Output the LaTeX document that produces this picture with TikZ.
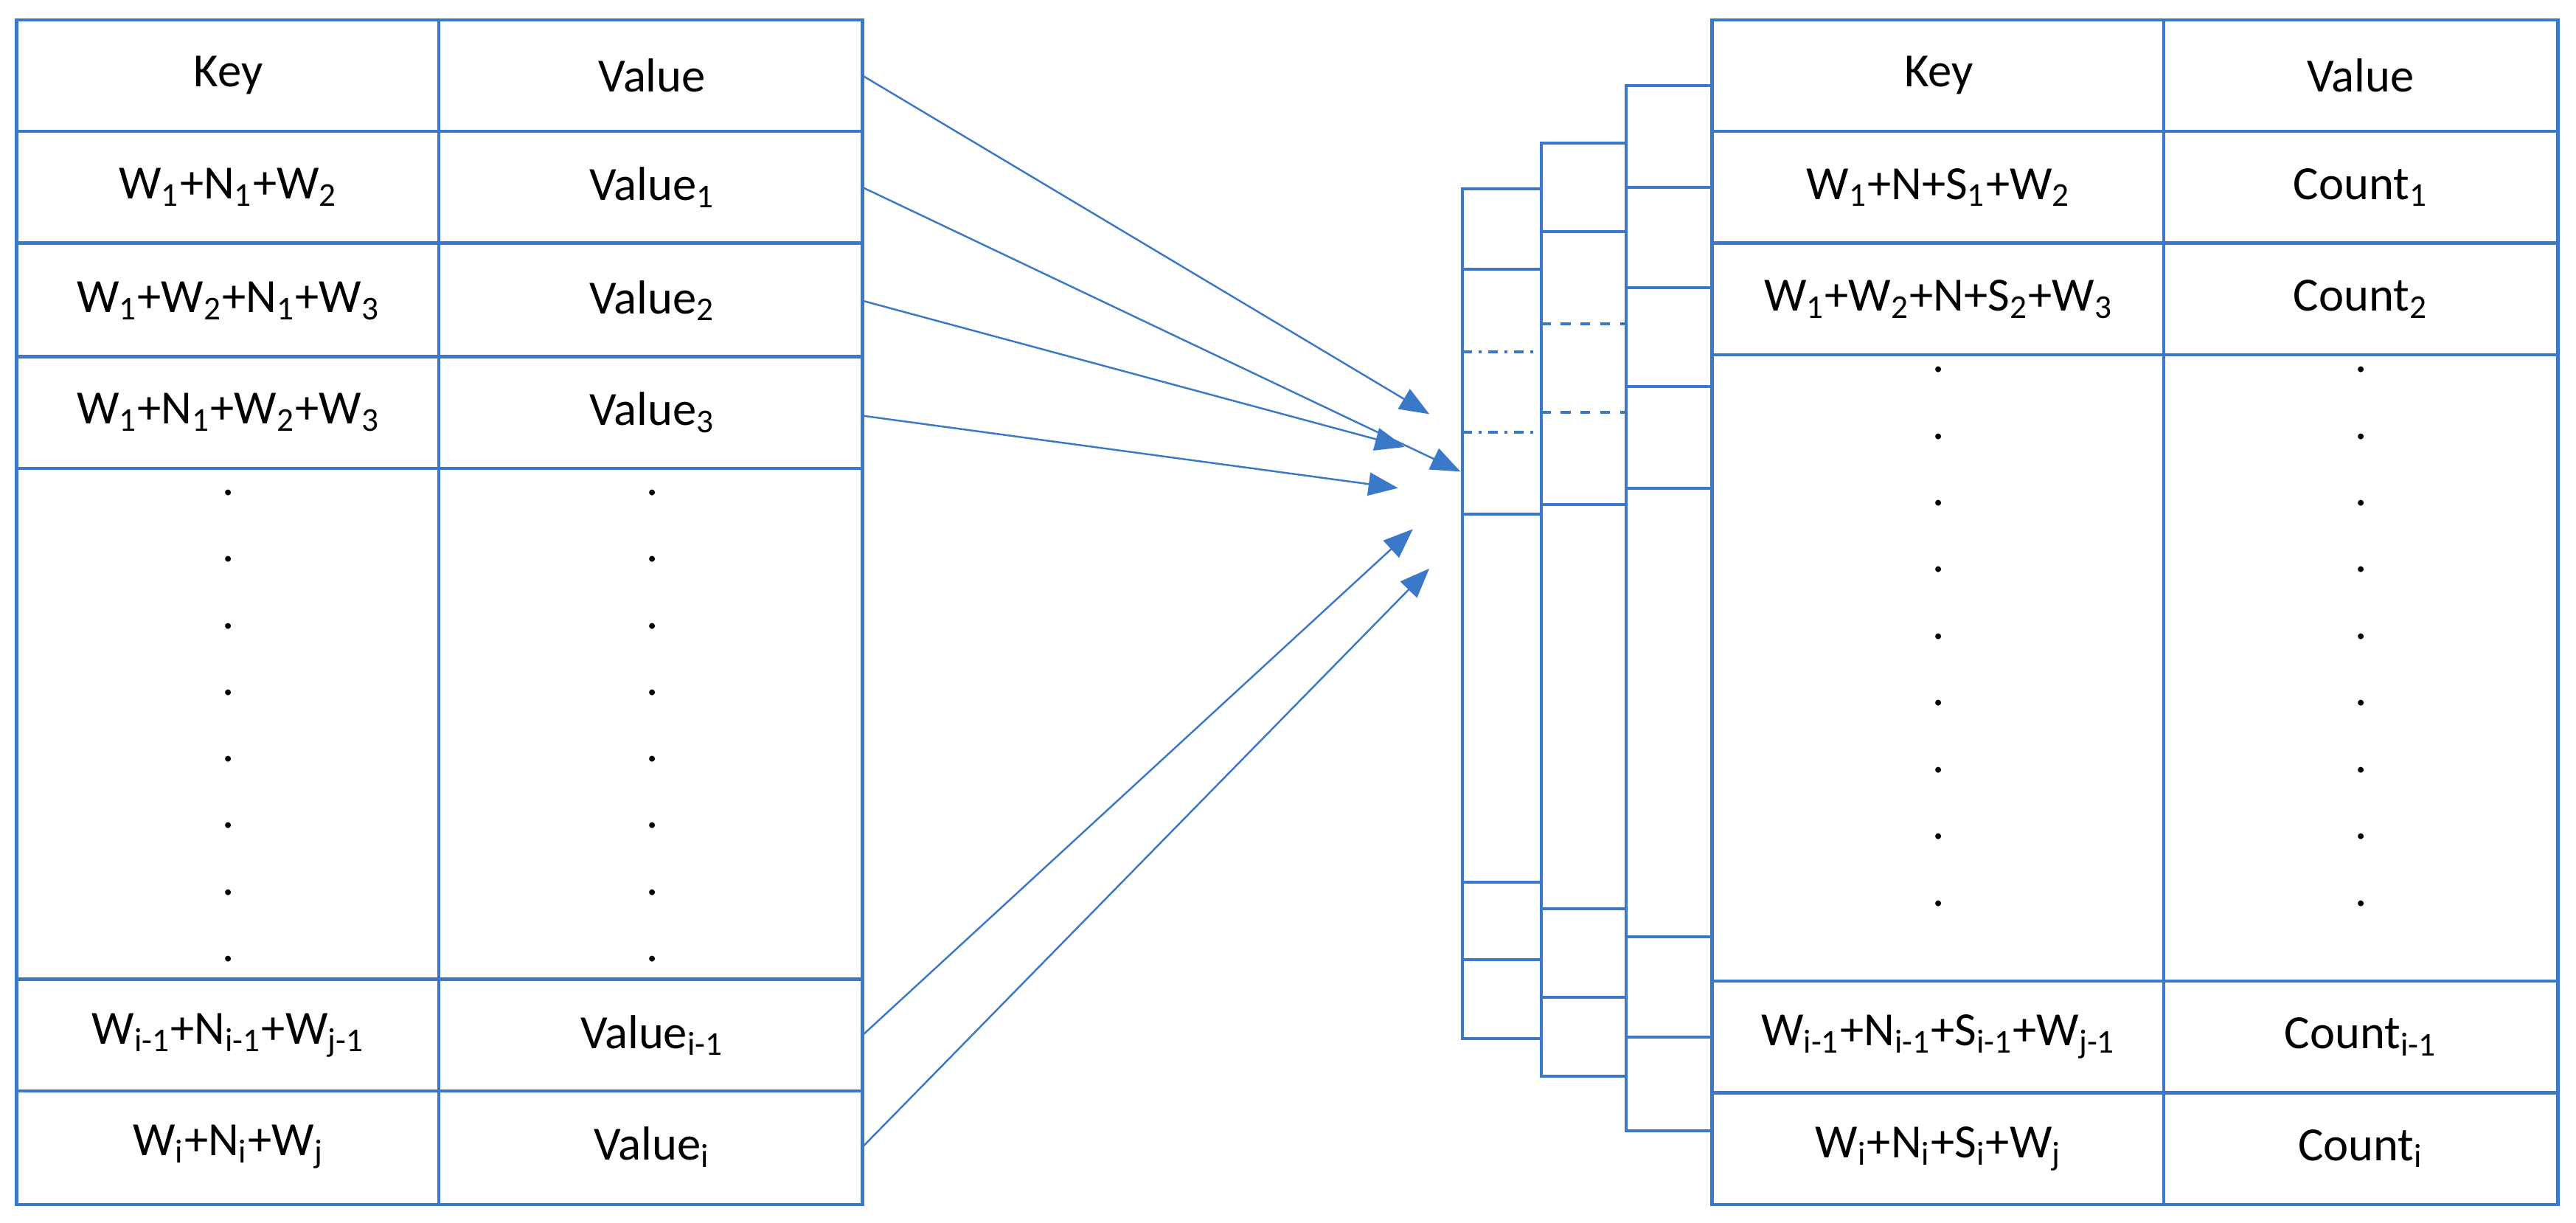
\documentclass[tikz,border=0pt]{standalone}
\usepackage{fontspec}
\setmainfont{Carlito}
\usetikzlibrary{arrows.meta}
\definecolor{bl}{RGB}{58,120,200}
\newcommand{\ssb}[1]{\textsubscript{#1}}
\begin{document}
\begin{tikzpicture}[x=0.5pt,y=-0.5pt,
  grid/.style={draw=bl,line width=1pt},
  pl/.style={draw=bl,line width=0.9pt},
  arr/.style={draw=bl,line width=0.55pt,-{Triangle[length=9pt,width=7pt]}},
  txt/.style={font=\fontsize{14.5}{17}\selectfont,inner sep=0pt},
  dot/.style={font=\fontsize{14.5}{17}\selectfont,inner sep=0pt}]
\useasboundingbox (0,0) rectangle (1568,744);
% left table
\draw[grid] (10,12) rectangle (525,733);
\draw[grid] (267,12) -- (267,733);
\foreach \y in {80,148,217,285,596,664} \draw[grid] (10,\y) -- (525,\y);
\node[txt] (lk0) at (139,46) {Key};
\node[txt] (lv0) at (397,46) {Value};
\node[txt] (lk1) at (139,114) {W\ssb{1}+N\ssb{1}+W\ssb{2}};
\node[txt] (lv1) at (397,114) {Value\ssb{1}};
\node[txt] (lk2) at (139,183) {W\ssb{1}+W\ssb{2}+N\ssb{1}+W\ssb{3}};
\node[txt] (lv2) at (397,183) {Value\ssb{2}};
\node[txt] (lk3) at (139,251) {W\ssb{1}+N\ssb{1}+W\ssb{2}+W\ssb{3}};
\node[txt] (lv3) at (397,251) {Value\ssb{3}};
\node[txt] (lk4) at (139,630) {W\ssb{i-1}+N\ssb{i-1}+W\ssb{j-1}};
\node[txt] (lv4) at (397,630) {Value\ssb{i-1}};
\node[txt] (lk5) at (139,698) {W\ssb{i}+N\ssb{i}+W\ssb{j}};
\node[txt] (lv5) at (397,698) {Value\ssb{i}};
\foreach \i in {0,...,7} {
  \node[dot] at (139,{300+40.5*\i}) {.};
  \node[dot] at (397,{300+40.5*\i}) {.};
}
% right table
\draw[grid] (1042,12) rectangle (1557,733);
\draw[grid] (1317,12) -- (1317,733);
\foreach \y in {80,148,216,597,665} \draw[grid] (1042,\y) -- (1557,\y);
\node[txt] (rk0) at (1180,46) {Key};
\node[txt] (rv0) at (1437,46) {Value};
\node[txt] (rk1) at (1180,114) {W\ssb{1}+N+S\ssb{1}+W\ssb{2}};
\node[txt] (rv1) at (1437,114) {Count\ssb{1}};
\node[txt] (rk2) at (1180,182) {W\ssb{1}+W\ssb{2}+N+S\ssb{2}+W\ssb{3}};
\node[txt] (rv2) at (1437,182) {Count\ssb{2}};
\node[txt] (rk3) at (1180,631) {W\ssb{i-1}+N\ssb{i-1}+S\ssb{i-1}+W\ssb{j-1}};
\node[txt] (rv3) at (1437,631) {Count\ssb{i-1}};
\node[txt] (rk4) at (1180,699) {W\ssb{i}+N\ssb{i}+S\ssb{i}+W\ssb{j}};
\node[txt] (rv4) at (1437,699) {Count\ssb{i}};
\foreach \i in {0,...,8} {
  \node[dot] at (1180,{225+40.6*\i}) {.};
  \node[dot] at (1437,{225+40.6*\i}) {.};
}
% stacked panels
\draw[pl] (1042,52) -- (990,52) -- (990,688) -- (1042,688);
\foreach \y in {114,175,235,297,570,631} \draw[pl] (990,\y) -- (1042,\y);
\draw[pl] (990,87) -- (938,87) -- (938,655) -- (990,655);
\foreach \y in {141,307,553,607} \draw[pl] (938,\y) -- (990,\y);
\foreach \y in {197,251} \draw[pl,dashed] (938,\y) -- (990,\y);
\draw[pl] (938,115) -- (890,115) -- (890,632) -- (938,632);
\foreach \y in {164,313,537,584} \draw[pl] (890,\y) -- (938,\y);
\foreach \y in {214,263} \draw[pl,dash dot] (890,\y) -- (938,\y);
% arrows
\coordinate (s0) at (525,46);
\coordinate (s1) at (525,114);
\coordinate (s2) at (525,183);
\coordinate (s3) at (525,253);
\coordinate (s4) at (525,630);
\coordinate (s5) at (525,698);
\coordinate (t1) at (870,252);
\coordinate (t2) at (855,272);
\coordinate (t3) at (889,287);
\coordinate (t4) at (851,297);
\coordinate (t5) at (860,322);
\coordinate (t6) at (870,346);
\draw[arr] (s0) -- (t1);
\draw[arr] (s1) -- (t3);
\draw[arr] (s2) -- (t2);
\draw[arr] (s3) -- (t4);
\draw[arr] (s4) -- (t5);
\draw[arr] (s5) -- (t6);
\end{tikzpicture}
\end{document}
